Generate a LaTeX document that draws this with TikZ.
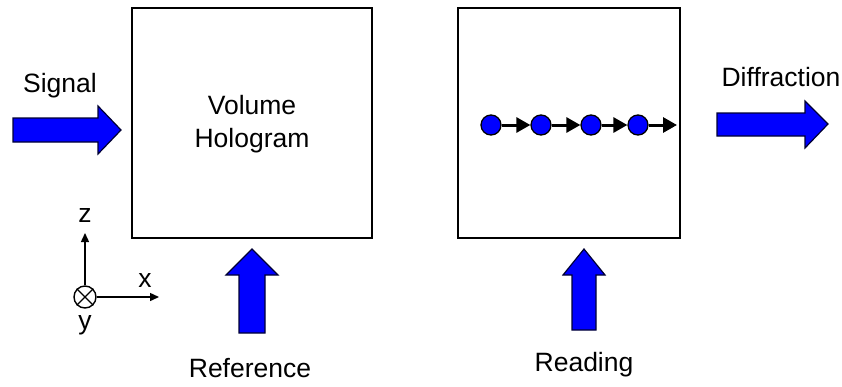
\documentclass[tikz,border=0pt]{standalone}
\usepackage{fontspec}
\setmainfont{Liberation Sans}
\usetikzlibrary{arrows.meta}
\begin{document}
\begin{tikzpicture}[x=1pt,y=-1pt,
  lbl/.style={font=\fontsize{26.5}{33}\selectfont, inner sep=0pt, align=center},
  panel/.style={draw=black, line width=1.8pt, minimum width=240pt, minimum height=230pt, inner sep=0pt},
  blockarrow/.style={fill={rgb,255:red,0;green,0;blue,255}, draw=black!80!blue, line width=1.2pt, line join=miter},
  dot/.style={circle, fill={rgb,255:red,0;green,0;blue,255}, draw=black, line width=1.3pt, minimum size=20pt, inner sep=0pt},
  chainarrow/.style={line width=3pt, -{Triangle[length=14pt,width=15pt]}},
  axis/.style={line width=1.4pt, -{Triangle[length=9pt,width=8pt]}}]
\useasboundingbox (0,0) rectangle (842,386);

% the two hologram panels
\node[panel, minimum width=240pt] (holo) at (252,123) {};
\node[panel, minimum width=222pt] (read) at (569,123) {};
\node[lbl] (holotext) at (252,124) {Volume\\Hologram};

% incoming signal beam
\draw[blockarrow] (13,118) -- (98,118) -- (98,106) -- (121,130) -- (98,154) -- (98,142) -- (13,142) -- cycle;
\node[lbl] (signal) at (60,86) {Signal};

% diffracted beam
\draw[blockarrow] (717,113) -- (805,113) -- (805,101) -- (828,124) -- (805,148) -- (805,136) -- (717,136) -- cycle;
\node[lbl] (diffraction) at (781,77) {Diffraction};

% reference beam
\draw[blockarrow] (239,333) -- (239,275) -- (226,275) -- (252,249) -- (278,275) -- (265,275) -- (265,333) -- cycle;
\node[lbl] (reference) at (250,368) {Reference};

% reading beam
\draw[blockarrow] (572,330) -- (572,275) -- (563,275) -- (584,249) -- (605,275) -- (596,275) -- (596,330) -- cycle;
\node[lbl] (reading) at (584,365) {Reading};

% chain of scatterers inside the reading panel
\node[dot] (c1) at (491,125) {};
\node[dot] (c2) at (541,125) {};
\node[dot] (c3) at (591,125) {};
\node[dot] (c4) at (638,125) {};
\coordinate (cend) at (677,125);
\draw[chainarrow] (c1) -- (c2);
\draw[chainarrow] (c2) -- (c3);
\draw[chainarrow] (c3) -- (c4);
\draw[chainarrow] (c4) -- (cend);

% coordinate axes
\node[circle, draw=black, line width=1.4pt, minimum size=22pt, inner sep=0pt] (origin) at (85,297) {};
\draw[line width=1.4pt] (origin.north west) -- (origin.south east);
\draw[line width=1.4pt] (origin.north east) -- (origin.south west);
\coordinate (ztip) at (85,233);
\coordinate (xtip) at (159,297);
\draw[axis] (origin) -- (ztip);
\draw[axis] (origin) -- (xtip);
\node[lbl] (zlabel) at (85,215) {z};
\node[lbl] (xlabel) at (145,280) {x};
\node[lbl] (ylabel) at (85,325) {y};
\end{tikzpicture}
\end{document}
